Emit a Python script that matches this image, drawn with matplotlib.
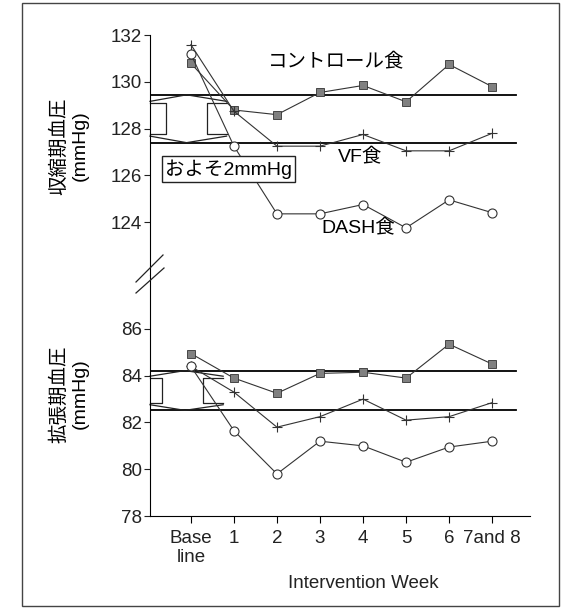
import matplotlib
matplotlib.use('Agg')
import matplotlib.pyplot as plt
from matplotlib.lines import Line2D
from matplotlib.patches import Rectangle

plt.rcParams['font.family'] = ['Liberation Sans', 'Noto Sans CJK JP']

# データ
weeks = ['Base\nline', '1', '2', '3', '4', '5', '6', '7and 8']
sbp_control = [130.8, 128.8, 128.6, 129.55, 129.85, 129.15, 130.75, 129.8]
sbp_fv = [131.6, 128.75, 127.25, 127.25, 127.75, 127.05, 127.05, 127.8]
sbp_dash = [131.2, 127.25, 124.35, 124.35, 124.75, 123.75, 124.95, 124.4]
dbp_control = [84.95, 83.9, 83.25, 84.1, 84.15, 83.9, 85.35, 84.5]
dbp_fv = [84.4, 83.3, 81.8, 82.25, 83.0, 82.1, 82.25, 82.85]
dbp_dash = [84.4, 81.65, 79.8, 81.2, 81.0, 80.3, 80.95, 81.2]
sbp_levels = [129.45, 127.4]
dbp_levels = [84.22, 82.52]
sbp_ticks = [124, 126, 128, 130, 132]
dbp_ticks = [78, 80, 82, 84, 86]

W, H = 570, 609
fig = plt.figure(figsize=(W / 100, H / 100), dpi=100)

def px(x0, y0, x1, y1):
  # ピクセル位置 -> figure座標
  return [x0 / W, 1 - y1 / H, (x1 - x0) / W, (y1 - y0) / H]

ax1 = fig.add_axes(px(150, 35.3, 530, 275))
ax2 = fig.add_axes(px(150, 275, 530, 516))

x = list(range(len(weeks)))
line_c = '#333333'

def draw_series(ax, ctrl, fv, dash):
  ax.plot(x, ctrl, color=line_c, lw=0.8, marker='s', ms=5.5,
          mfc='#808080', mec='#333333', mew=0.6, zorder=3)
  ax.plot(x, fv, color=line_c, lw=0.8, marker='+', ms=7,
          mec='#333333', mew=0.8, zorder=3)
  ax.plot(x, dash, color=line_c, lw=0.8, marker='o', ms=6.5,
          mfc='white', mec='#333333', mew=0.8, zorder=3)

def draw_brace(ax, hi, lo, xl, xm, xb1, xb2, xr, d_out, d_in):
  # 2本の線の間の差を示す記号
  kw = dict(color='#222222', lw=0.9, clip_on=False, zorder=2)
  ax.plot([xl, xm, xr], [hi - d_out, hi, hi - d_out], **kw)
  ax.plot([xl, xm, xr], [lo + d_out, lo, lo + d_out], **kw)
  ax.plot([xl, xb1, xb1, xl], [hi - d_in, hi - d_in, lo + d_in, lo + d_in], **kw)
  ax.plot([xr, xb2, xb2, xr], [hi - d_in, hi - d_in, lo + d_in, lo + d_in], **kw)

for ax, levels in ((ax1, sbp_levels), (ax2, dbp_levels)):
  ax.set_xlim(-0.95, 7.88)
  for lv in levels:
    ax.plot([-0.95, 7.55], [lv, lv], color='black', lw=1.3, zorder=2)
  ax.spines['top'].set_visible(False)
  ax.spines['right'].set_visible(False)
  ax.tick_params(axis='y', direction='out', length=4, width=0.8, pad=2,
                 labelsize=13.5, colors='#222222')

draw_series(ax1, sbp_control, sbp_fv, sbp_dash)
draw_series(ax2, dbp_control, dbp_fv, dbp_dash)
draw_brace(ax1, sbp_levels[0], sbp_levels[1], -0.95, -0.1, -0.58, 0.38, 0.83, 0.28, 0.36)
draw_brace(ax2, dbp_levels[0], dbp_levels[1], -0.95, -0.14, -0.67, 0.29, 0.75, 0.24, 0.32)

# 上段
ax1.set_ylim(121.73, 132)
ax1.set_yticks(sbp_ticks)
ax1.spines['bottom'].set_visible(False)
ax1.set_xticks([])
ax1.text(3.37, 130.86, 'コントロール食', fontsize=14, ha='center', va='center')
ax1.text(3.93, 126.78, 'VF食', fontsize=14, ha='center', va='center')
ax1.text(3.88, 123.74, 'DASH食', fontsize=14, ha='center', va='center')
ax1.text(0.88, 126.27, 'およそ2mmHg', fontsize=14, ha='center', va='center', zorder=5,
         bbox=dict(boxstyle='square,pad=0.15', fc='white', ec='#222222', lw=1))

# 下段
ax2.set_ylim(78, 88.31)
ax2.set_yticks(dbp_ticks)
ax2.set_xticks(x)
ax2.set_xticklabels(weeks, fontsize=13.5, color='#222222', linespacing=1.2)
ax2.tick_params(axis='x', direction='out', length=5, width=0.8, pad=5)

fig.text(69 / W, 1 - 146 / H, '収縮期血圧\n(mmHg)', rotation=90, fontsize=14,
         ha='center', va='center', multialignment='center', linespacing=1.25)
fig.text(69 / W, 1 - 394 / H, '拡張期血圧\n(mmHg)', rotation=90, fontsize=14,
         ha='center', va='center', multialignment='center', linespacing=1.25)
fig.text(363 / W, 1 - 584 / H, 'Intervention Week', fontsize=13.5,
         ha='center', va='center', color='#222222')

# 軸の省略記号
for (x0, y0, x1, y1) in [(136, 282, 163, 255), (136, 293, 164, 268)]:
  fig.add_artist(Line2D([x0 / W, x1 / W], [1 - y0 / H, 1 - y1 / H],
                        color='#222222', lw=0.9, transform=fig.transFigure))

# 外枠
fig.add_artist(Rectangle((22 / W, 1 - 606 / H), 537 / W, 603 / H, fill=False,
                         ec='#444444', lw=1, transform=fig.transFigure))

fig.savefig('out.png', dpi=100)
